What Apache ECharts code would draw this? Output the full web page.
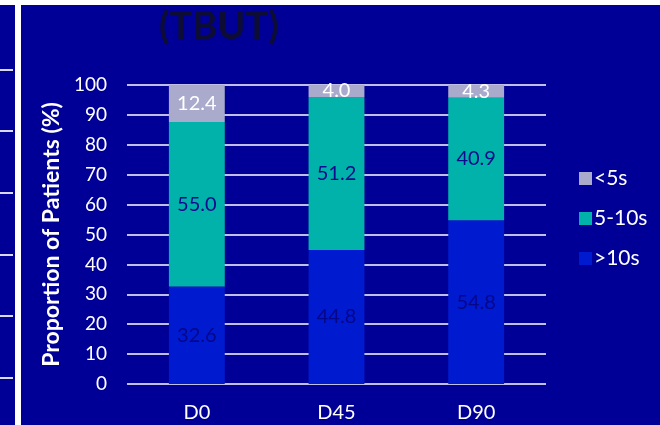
<!DOCTYPE html>
<html>
<head>
<meta charset="utf-8">
<script src="https://cdn.jsdelivr.net/npm/echarts@6/dist/echarts.min.js"></script>
<style>
  html, body { margin: 0; padding: 0; background: #000096; }
  #chart { width: 660px; height: 425px; }
</style>
</head>
<body>
<div id="chart"></div>
<script>
// Visit days and tear break-up time groups (% of patients)
const visits = ['D0', 'D45', 'D90'];
const over10s = [32.6, 44.8, 54.8];
const from5to10s = [55.0, 51.2, 40.9];
const under5s = [12.4, 4.0, 4.3];
const groupNames = ['<5s', '5-10s', '>10s'];
const yTicks = { min: 0, max: 100, step: 10 };

const FONT = 'Lato, "Open Sans", sans-serif';
const BG = '#000096';

const chart = echarts.init(document.getElementById('chart'), null, { renderer: 'canvas' });

function segLabel(color) {
  return {
    show: true,
    position: 'inside',
    color: color,
    fontFamily: FONT,
    fontSize: 20,
    formatter: p => p.value.toFixed(1)
  };
}

// slide decorations: top band, left rule and its tick marks
const sideTicks = [70, 131, 193, 255, 316, 378];
const graphics = [
  { type: 'rect', shape: { x: 0, y: 0, width: 660, height: 5 }, style: { fill: '#ffffff' }, silent: true },
  { type: 'rect', shape: { x: 15, y: 5, width: 6, height: 420 }, style: { fill: '#ffffff' }, silent: true },
  { type: 'text', left: 159, top: 8, style: { text: '(TBUT)', fill: '#0c0c34', font: 'bold 38px ' + FONT }, silent: true }
].concat(sideTicks.map(y => ({
  type: 'line', shape: { x1: 0, y1: y, x2: 13, y2: y },
  style: { stroke: '#d8d8ee', lineWidth: 2 }, silent: true
})));

chart.setOption({
  backgroundColor: BG,
  animation: false,
  graphic: graphics,
  grid: { left: 127, right: 114, top: 85, bottom: 41 },
  legend: {
    orient: 'vertical',
    left: 574,
    top: 163,
    data: groupNames,
    icon: 'rect',
    itemWidth: 13,
    itemHeight: 13,
    itemGap: 19,
    textStyle: { color: '#ffffff', fontFamily: FONT, fontSize: 21, padding: [0, 0, 0, -3] }
  },
  xAxis: {
    type: 'category',
    data: visits,
    axisLine: { show: false },
    axisTick: { show: false },
    axisLabel: { color: '#ffffff', fontFamily: FONT, fontSize: 20, margin: 19 }
  },
  yAxis: {
    type: 'value',
    min: yTicks.min,
    max: yTicks.max,
    interval: yTicks.step,
    name: 'Proportion of Patients (%)',
    nameLocation: 'middle',
    nameGap: 62,
    nameTextStyle: { color: '#ffffff', fontFamily: FONT, fontSize: 23, fontWeight: 'bold' },
    axisLine: { show: false },
    axisTick: { show: false },
    axisLabel: { color: '#ffffff', fontFamily: FONT, fontSize: 19, margin: 20 },
    splitLine: { lineStyle: { color: '#ffffff', width: 1.5 } }
  },
  series: [
    {
      name: '>10s', type: 'bar', stack: 'tbut', barWidth: '40%',
      data: over10s, itemStyle: { color: '#001bcf' },
      label: segLabel('#06068a')
    },
    {
      name: '5-10s', type: 'bar', stack: 'tbut', barWidth: '40%',
      data: from5to10s, itemStyle: { color: '#00b2aa' },
      label: segLabel('#0a0a8c')
    },
    {
      name: '<5s', type: 'bar', stack: 'tbut', barWidth: '40%',
      data: under5s, itemStyle: { color: '#aaaacc' },
      label: segLabel('#ffffff')
    }
  ]
});
</script>
</body>
</html>
